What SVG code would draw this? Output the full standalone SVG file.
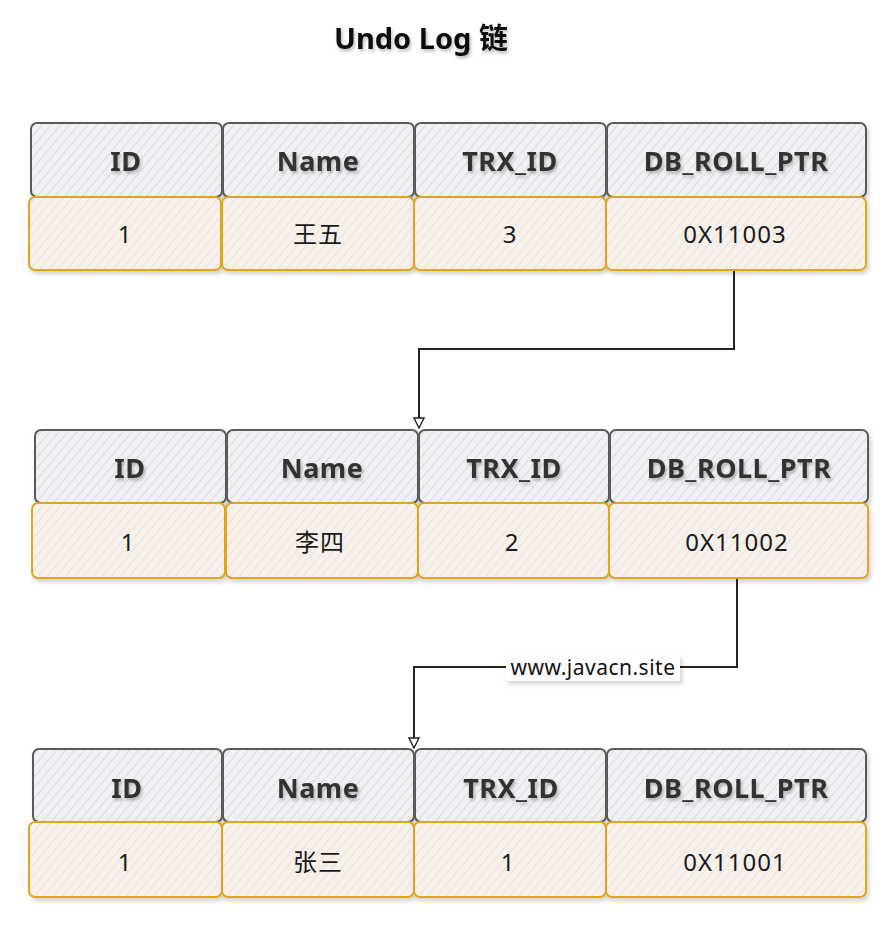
<svg xmlns="http://www.w3.org/2000/svg" width="891" height="925" viewBox="0 0 891 925">
<defs>
<pattern id="hatchH" patternUnits="userSpaceOnUse" width="7" height="7" patternTransform="rotate(40)">
<rect width="7" height="7" fill="#f1f1f4"/>
<line x1="0" y1="0" x2="0" y2="7" stroke="#d8d8df" stroke-width="1.8"/>
</pattern>
<pattern id="hatchD" patternUnits="userSpaceOnUse" width="7" height="7" patternTransform="rotate(40)">
<rect width="7" height="7" fill="#f8f1ea"/>
<line x1="0" y1="0" x2="0" y2="7" stroke="#e4e1e4" stroke-width="1.8"/>
</pattern>
<filter id="sh" x="-10%" y="-10%" width="130%" height="140%">
<feDropShadow dx="2" dy="3" stdDeviation="2" flood-color="#000" flood-opacity="0.18"/>
</filter>
<filter id="tsh" x="-10%" y="-20%" width="130%" height="160%">
<feDropShadow dx="1.5" dy="2.5" stdDeviation="1.5" flood-color="#000" flood-opacity="0.25"/>
</filter>
<marker id="arr" viewBox="0 0 12 12" refX="11" refY="6" markerWidth="12" markerHeight="12" markerUnits="userSpaceOnUse" orient="auto">
<path d="M1,1 L11,6 L1,11 Z" fill="#fff" stroke="#222" stroke-width="1.4"/>
</marker>
</defs>
<style>
.h rect{fill:url(#hatchH);stroke:#5a5a5a;stroke-width:2;filter:url(#sh)}
.d rect{fill:url(#hatchD);stroke:#e0a71c;stroke-width:2;filter:url(#sh)}
.h text{font-family:"Comic Sans MS","Noto Sans","DejaVu Sans",sans-serif;font-weight:bold;font-size:27px;letter-spacing:0.5px;fill:#333;text-anchor:middle;filter:url(#tsh)}
.d text{font-family:"Comic Sans MS","Noto Sans","Noto Sans CJK SC",sans-serif;font-size:24px;letter-spacing:1px;fill:#1a1a1a;text-anchor:middle}
.title{font-family:"Comic Sans MS","Noto Sans","Noto Sans CJK SC",sans-serif;font-weight:bold;font-size:29px;fill:#111;text-anchor:middle;filter:url(#tsh)}
.conn path{fill:none;stroke:#222;stroke-width:2}
.lbl{font-family:"Comic Sans MS","Noto Sans","DejaVu Sans",sans-serif;font-size:21px;letter-spacing:0.5px;fill:#111;text-anchor:middle}
</style>
<rect width="891" height="925" fill="#fff"/>
<text class="title" x="421" y="49">Undo Log 链</text>

<!-- Table 1 -->
<g id="t1-h-id" class="h"><rect x="31" y="123" width="191" height="74" rx="6"/><text x="126" y="171">ID</text></g>
<g id="t1-h-name" class="h"><rect x="223" y="123" width="191" height="74" rx="6"/><text x="318" y="171">Name</text></g>
<g id="t1-h-trx" class="h"><rect x="415" y="123" width="191" height="74" rx="6"/><text x="510" y="171">TRX_ID</text></g>
<g id="t1-h-ptr" class="h"><rect x="607" y="123" width="259" height="74" rx="6"/><text x="736" y="171">DB_ROLL_PTR</text></g>
<g id="t1-d-id" class="d"><rect x="29" y="197" width="192" height="73" rx="6"/><text x="125" y="243">1</text></g>
<g id="t1-d-name" class="d"><rect x="222" y="197" width="192" height="73" rx="6"/><text x="318" y="243">王五</text></g>
<g id="t1-d-trx" class="d"><rect x="414" y="197" width="192" height="73" rx="6"/><text x="510" y="243">3</text></g>
<g id="t1-d-ptr" class="d"><rect x="606" y="197" width="260" height="73" rx="6"/><text x="735" y="243">0X11003</text></g>

<!-- Table 2 -->
<g id="t2-h-id" class="h"><rect x="35" y="430" width="191" height="73" rx="6"/><text x="130" y="478">ID</text></g>
<g id="t2-h-name" class="h"><rect x="227" y="430" width="191" height="73" rx="6"/><text x="322" y="478">Name</text></g>
<g id="t2-h-trx" class="h"><rect x="419" y="430" width="190" height="73" rx="6"/><text x="514" y="478">TRX_ID</text></g>
<g id="t2-h-ptr" class="h"><rect x="610" y="430" width="258" height="73" rx="6"/><text x="739" y="478">DB_ROLL_PTR</text></g>
<g id="t2-d-id" class="d"><rect x="32" y="503" width="193" height="75" rx="6"/><text x="128" y="551">1</text></g>
<g id="t2-d-name" class="d"><rect x="226" y="503" width="192" height="75" rx="6"/><text x="320" y="551">李四</text></g>
<g id="t2-d-trx" class="d"><rect x="418" y="503" width="191" height="75" rx="6"/><text x="512" y="551">2</text></g>
<g id="t2-d-ptr" class="d"><rect x="609" y="503" width="259" height="75" rx="6"/><text x="737" y="551">0X11002</text></g>

<!-- Table 3 -->
<g id="t3-h-id" class="h"><rect x="33" y="749" width="189" height="73" rx="6"/><text x="127" y="798">ID</text></g>
<g id="t3-h-name" class="h"><rect x="223" y="749" width="191" height="73" rx="6"/><text x="318" y="798">Name</text></g>
<g id="t3-h-trx" class="h"><rect x="415" y="749" width="191" height="73" rx="6"/><text x="511" y="798">TRX_ID</text></g>
<g id="t3-h-ptr" class="h"><rect x="607" y="749" width="259" height="73" rx="6"/><text x="736" y="798">DB_ROLL_PTR</text></g>
<g id="t3-d-id" class="d"><rect x="29" y="822" width="193" height="75" rx="6"/><text x="125" y="871">1</text></g>
<g id="t3-d-name" class="d"><rect x="222" y="822" width="192" height="75" rx="6"/><text x="318" y="871">张三</text></g>
<g id="t3-d-trx" class="d"><rect x="414" y="822" width="192" height="75" rx="6"/><text x="508" y="871">1</text></g>
<g id="t3-d-ptr" class="d"><rect x="606" y="822" width="260" height="75" rx="6"/><text x="735" y="871">0X11001</text></g>

<!-- Connectors -->
<g id="connectors" class="conn">
<path d="M734,271 L734,349 L419,349 L419,428" marker-end="url(#arr)"/>
<path d="M737,579 L737,667 L414,667 L414,748" marker-end="url(#arr)"/>
<rect x="506" y="655" width="174" height="26" fill="#fff" filter="url(#sh)"/>
<text class="lbl" x="593" y="675">www.javacn.site</text>
</g>
</svg>
